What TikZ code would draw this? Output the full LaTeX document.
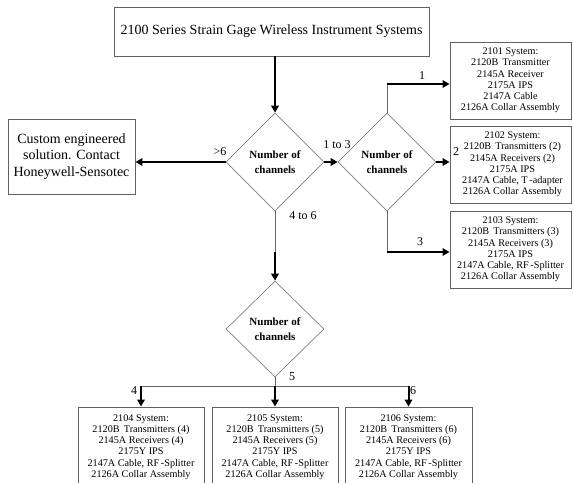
\documentclass[tikz,border=0pt]{standalone}
\usepackage{fontspec}
\setmainfont{Liberation Serif}
\usetikzlibrary{shapes.geometric,arrows.meta}
\begin{document}
\begin{tikzpicture}[x=1pt,y=-1pt,
  box/.style={draw=black!62,line width=0.9pt,inner sep=0pt,align=center},
  smalltext/.style={font=\fontsize{10.2}{11.2}\selectfont},
  sysbox/.style={box,smalltext,minimum width=121pt,minimum height=77pt},
  botbox/.style={box,smalltext,minimum width=126pt,minimum height=80pt},
  decision/.style={diamond,draw=black!50,line width=0.7pt,inner sep=0pt,minimum width=98pt,minimum height=98pt,align=center,font=\fontsize{11}{15}\selectfont\bfseries},
  bigarrow/.style={draw=black,line width=2pt,-{Triangle[length=7pt,width=7.5pt]}},
  thinline/.style={draw=black!60,line width=0.8pt},
  lbl/.style={font=\fontsize{12}{14}\selectfont,inner sep=0pt}
]
\useasboundingbox (0,0) rectangle (573,482);
\clip (0,0) rectangle (573,482);

\node[box,minimum width=315pt,minimum height=49pt,font=\fontsize{14}{17}\selectfont] (title) at (271.5,31.5) {2100 Series Strain Gage Wireless Instrument Systems};
\node[box,minimum width=127pt,minimum height=75pt,font=\fontsize{14}{16.5}\selectfont] (custom) at (71.5,156.5) {Custom engineered\\solution. Contact\\Honeywell-Sensotec};

\node[decision] (d1) at (275,162) {Number of\\channels};
\node[decision] (d2) at (387,162) {Number of\\channels};
\node[decision,minimum height=96pt] (d3) at (275,329) {Number of\\channels};

\node[sysbox] (b1) at (510.5,80.5) {2101 System:\\2120B\ \,Transmitter\\2145A Receiver\\2175A IPS\\2147A Cable\\2126A Collar Assembly};
\node[sysbox] (b2) at (510.5,164.5) {};
\node[smalltext,align=center,inner sep=0pt] (b2txt) at ([xshift=2pt]b2.center) {2102 System:\\2120B\ \,Transmitters (2)\\2145A Receivers (2)\\2175A IPS\\2147A Cable, T\,-adapter\\2126A Collar Assembly};
\node[sysbox] (b3) at (510.5,249.5) {2103 System:\\2120B\ \,Transmitters (3)\\2145A Receivers (3)\\2175A IPS\\2147A Cable, RF\,-Splitter\\2126A Collar Assembly};

\node[botbox] (b4) at (141,447) {2104 System:\\2120B\ \,Transmitters (4)\\2145A Receivers (4)\\2175Y IPS\\2147A Cable, RF\,-Splitter\\2126A Collar Assembly};
\node[botbox] (b5) at (275,447) {2105 System:\\2120B\ \,Transmitters (5)\\2145A Receivers (5)\\2175Y IPS\\2147A Cable, RF\,-Splitter\\2126A Collar Assembly};
\node[botbox,minimum width=127pt] (b6) at (408.5,447) {2106 System:\\2120B\ \,Transmitters (6)\\2145A Receivers (6)\\2175Y IPS\\2147A Cable, RF\,-Splitter\\2126A Collar Assembly};

\coordinate (k1) at (387,84);
\coordinate (k3) at (387,252);
\coordinate (k4) at (275,252);
\coordinate (k5) at (275,386);

\draw[bigarrow] (title.south -| d1.north) -- (d1.north);
\draw[bigarrow] (d1.west) -- (d1.west -| custom.east);
\draw[bigarrow] (d1.east) -- (d2.west);
\draw[thinline] (d2.north) -- (k1);
\draw[bigarrow] (k1) -- (k1 -| b1.west);
\draw[bigarrow] (d2.east) -- (d2.east -| b2.west);
\draw[thinline] (d2.south) -- (k3);
\draw[bigarrow] (k3) -- (k3 -| b3.west);
\draw[thinline] (d1.south) -- (k4);
\draw[bigarrow] (k4) -- (d3.north);
\draw[thinline] (d3.south) -- (k5);
\draw[thinline] (k5 -| b4.north) -- (k5 -| b6.north);
\draw[bigarrow] (k5 -| b4.north) -- (b4.north);
\draw[bigarrow] (k5) -- (b5.north);
\draw[bigarrow] (k5 -| b6.north) -- (b6.north);

\node[lbl] (l6) at (220,152) {>6};
\node[lbl] (l13) at (337,145) {1 to 3};
\node[lbl] (l46) at (303,216) {4 to 6};
\node[lbl] (la) at (422,76) {1};
\node[lbl] (lb) at (456,152) {2};
\node[lbl] (lc) at (420,242) {3};
\node[lbl] (ld) at (134,391) {4};
\node[lbl] (le) at (292,377) {5};
\node[lbl] (lf) at (413,391) {6};
\end{tikzpicture}
\end{document}
